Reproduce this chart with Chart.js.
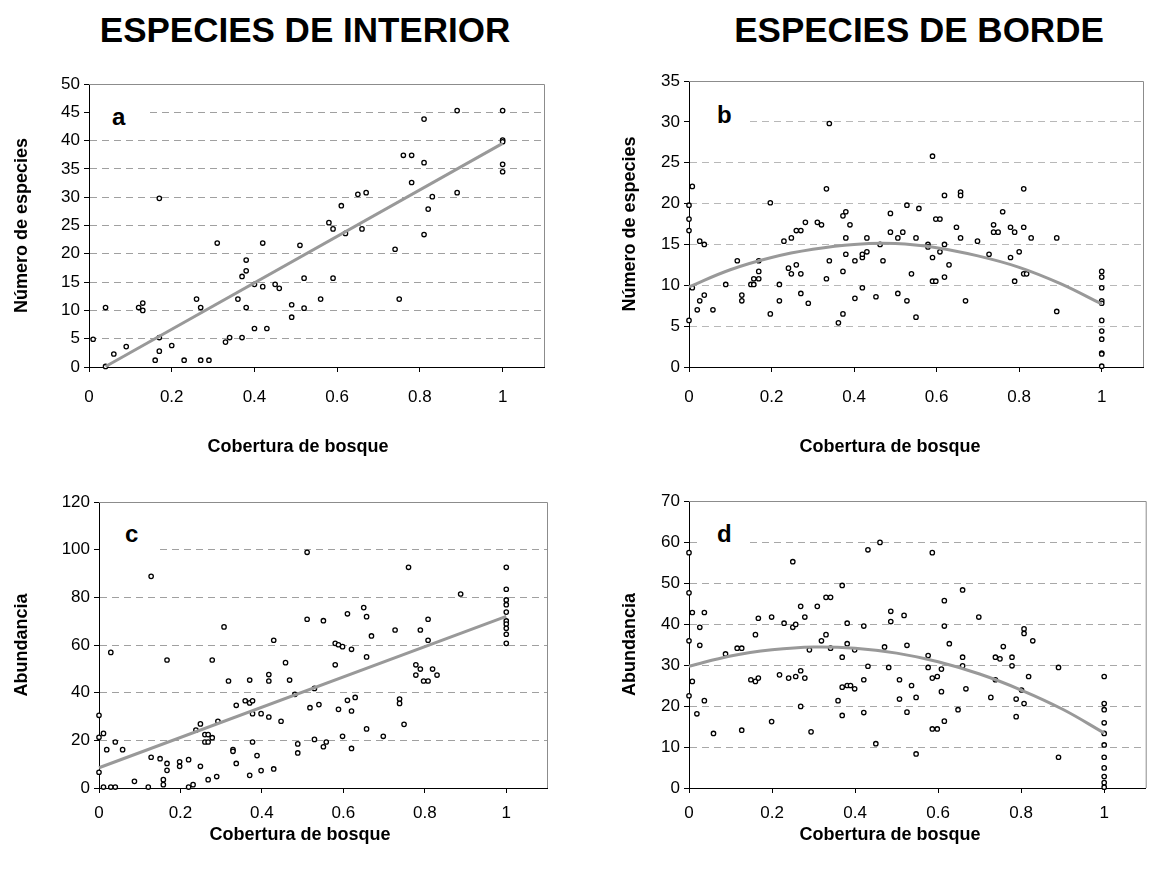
<!DOCTYPE html>
<html lang="es">
<head>
<meta charset="utf-8">
<title>Especies de interior y de borde</title>
<script src="https://cdn.jsdelivr.net/npm/chart.js@4.4.1/dist/chart.umd.min.js"></script>
<style>
  html, body { margin: 0; padding: 0; background: #fff; }
  body { position: relative; width: 1151px; height: 869px; overflow: hidden; font-family: "Liberation Sans", Arial, sans-serif; }
  canvas { position: absolute; }
  .head { position: absolute; top: 12px; font-weight: bold; font-size: 35px; line-height: 35px; white-space: nowrap; transform: translateX(-50%); }
  .xt { position: absolute; font-weight: bold; font-size: 18px; line-height: 22px; white-space: nowrap; transform: translateX(-50%); }
  .tag { position: absolute; box-sizing: border-box; background: #fff; font-weight: bold; font-size: 24px; line-height: 24px; }
</style>
</head>
<body>
<div class="head" style="left:305px">ESPECIES DE INTERIOR</div>
<div class="head" style="left:919px">ESPECIES DE BORDE</div>

<canvas id="chartA" width="575" height="420" style="left:0;top:55px"></canvas>
<canvas id="chartB" width="551" height="420" style="left:600px;top:55px"></canvas>
<canvas id="chartC" width="575" height="399" style="left:0;top:470px"></canvas>
<canvas id="chartD" width="551" height="399" style="left:600px;top:470px"></canvas>

<div class="tag" style="left:90px;top:100px;width:60px;height:32px;padding:5px 0 0 22px">a</div>
<div class="tag" style="left:690px;top:100px;width:60px;height:34px;padding:3px 0 0 27px">b</div>
<div class="tag" style="left:100px;top:520px;width:60px;height:38px;padding:2px 0 0 25px">c</div>
<div class="tag" style="left:700px;top:520px;width:50px;height:36px;padding:2px 0 0 17px">d</div>

<div class="xt" style="left:298px;top:435px">Cobertura de bosque</div>
<div class="xt" style="left:890px;top:435px">Cobertura de bosque</div>
<div class="xt" style="left:300px;top:823px">Cobertura de bosque</div>
<div class="xt" style="left:890px;top:823px">Cobertura de bosque</div>

<script>
/* ---- a: riqueza, especies de interior ---- */
const interiorRichCover = [
  0.01, 0.04, 0.04, 0.06, 0.09, 0.12, 0.13, 0.13, 0.16, 0.17,
  0.17, 0.17, 0.20, 0.23, 0.26, 0.27, 0.27, 0.29, 0.31, 0.33,
  0.34, 0.36, 0.37, 0.38, 0.38, 0.37, 0.38, 0.40, 0.40, 0.42,
  0.42, 0.43, 0.45, 0.46, 0.49, 0.49, 0.51, 0.52, 0.52, 0.56,
  0.58, 0.59, 0.59, 0.61, 0.62, 0.65, 0.66, 0.67, 0.74, 0.75,
  0.76, 0.78, 0.78, 0.81, 0.81, 0.81, 0.82, 0.83, 0.89, 0.89,
  1, 1, 1, 1, 1
];
const interiorRichCount = [
  4.9, 10.5, 0.1, 2.3, 3.6, 10.5, 11.3, 10.0, 1.2, 5.2,
  29.8, 2.8, 3.8, 1.2, 12.0, 10.5, 1.2, 1.2, 21.9, 4.4,
  5.2, 12.0, 16.0, 17.0, 18.9, 5.2, 10.5, 14.6, 6.8, 21.9,
  14.2, 6.8, 14.6, 13.9, 11.0, 8.8, 21.5, 15.7, 10.4, 12.0,
  25.5, 24.4, 15.7, 28.5, 23.6, 30.5, 24.4, 30.8, 20.8, 12.0,
  37.4, 37.4, 32.6, 43.8, 36.1, 23.4, 27.9, 30.1, 45.3, 30.8,
  45.3, 40.1, 39.8, 35.8, 34.5
];
const interiorRichFitX = [0.04, 1];
const interiorRichFitY = [0.1, 39.5];

/* ---- b: riqueza, especies de borde ---- */
const bordeRichCover = [
  0, 0, 0, 0, 0.008, 0.008, 0.02, 0.026, 0.026, 0.037,
  0.037, 0.058, 0.089, 0.117, 0.128, 0.128, 0.15, 0.157, 0.157, 0.169,
  0.169, 0.169, 0.197, 0.197, 0.219, 0.219, 0.23, 0.241, 0.248, 0.248,
  0.26, 0.26, 0.271, 0.271, 0.271, 0.282, 0.289, 0.311, 0.321, 0.333,
  0.333, 0.34, 0.34, 0.362, 0.373, 0.38, 0.373, 0.373, 0.38, 0.38,
  0.39, 0.402, 0.402, 0.42, 0.42, 0.42, 0.431, 0.431, 0.453, 0.463,
  0.47, 0.488, 0.488, 0.506, 0.506, 0.518, 0.528, 0.528, 0.539, 0.55,
  0.55, 0.557, 0.579, 0.579, 0.59, 0.59, 0.59, 0.598, 0.598, 0.608,
  0.608, 0.619, 0.619, 0.619, 0.63, 0.648, 0.658, 0.658, 0.658, 0.67,
  0.699, 0.727, 0.738, 0.738, 0.749, 0.76, 0.779, 0.779, 0.789, 0.789,
  0.8, 0.811, 0.811, 0.811, 0.818, 0.829, 0.891, 0.891, 1, 1,
  1, 1, 1, 1, 1, 1, 1, 1, 1
];
const bordeRichCount = [
  19.8, 18.1, 16.7, 5.7, 22.1, 9.7, 7.0, 15.4, 8.1, 15.0,
  8.8, 7.0, 10.1, 13.0, 8.8, 8.1, 10.1, 10.8, 10.1, 13.0,
  11.7, 10.8, 20.1, 6.5, 10.1, 8.1, 15.4, 12.1, 15.8, 11.4,
  16.7, 12.5, 16.7, 11.4, 9.0, 17.7, 7.8, 17.7, 17.4, 21.8,
  10.8, 29.8, 13.0, 5.4, 18.5, 19.0, 11.7, 6.5, 15.8, 13.8,
  17.4, 13.0, 8.4, 13.4, 13.8, 9.7, 15.8, 14.1, 8.6, 15.0,
  13.0, 18.8, 16.5, 15.8, 9.0, 16.5, 19.8, 8.1, 11.4, 15.8,
  6.1, 19.4, 15.0, 14.7, 25.8, 13.4, 10.5, 18.1, 10.5, 18.1,
  14.1, 21.0, 15.0, 11.0, 12.5, 17.1, 21.4, 21.0, 15.8, 8.1,
  15.4, 13.8, 17.4, 16.5, 16.5, 19.0, 17.1, 13.4, 16.5, 10.5,
  14.1, 21.8, 17.1, 11.4, 11.4, 15.8, 15.8, 6.8, 11.7, 11.0,
  9.7, 8.1, 7.8, 5.7, 4.4, 3.4, 1.7, 1.6, 0.1
];
const bordeRichFitX = [0, 0.1, 0.2, 0.3, 0.4, 0.5, 0.6, 0.7, 0.8, 0.9, 1];
const bordeRichFitY = [9.8, 11.9, 13.4, 14.4, 15.0, 15.1, 14.6, 13.6, 12.2, 10.2, 7.7];

/* ---- c: abundancia, especies de interior ---- */
const interiorAbundCover = [
  0, 0, 0, 0.011, 0.011, 0.019, 0.029, 0.029, 0.04, 0.04,
  0.058, 0.087, 0.121, 0.128, 0.128, 0.15, 0.158, 0.158, 0.167, 0.167,
  0.167, 0.198, 0.198, 0.22, 0.22, 0.231, 0.238, 0.249, 0.249, 0.26,
  0.26, 0.268, 0.268, 0.268, 0.278, 0.278, 0.289, 0.292, 0.307, 0.318,
  0.329, 0.329, 0.337, 0.337, 0.359, 0.37, 0.37, 0.37, 0.377, 0.377,
  0.377, 0.388, 0.398, 0.398, 0.417, 0.417, 0.417, 0.429, 0.429, 0.447,
  0.458, 0.468, 0.481, 0.488, 0.488, 0.511, 0.511, 0.518, 0.529, 0.529,
  0.54, 0.551, 0.551, 0.558, 0.58, 0.58, 0.588, 0.588, 0.598, 0.598,
  0.61, 0.61, 0.62, 0.62, 0.62, 0.629, 0.65, 0.657, 0.657, 0.657,
  0.669, 0.698, 0.727, 0.738, 0.738, 0.749, 0.76, 0.778, 0.778, 0.789,
  0.789, 0.797, 0.808, 0.808, 0.808, 0.819, 0.83, 0.888, 1, 1,
  1, 1, 1, 1, 1, 1, 1, 1
];
const interiorAbundCount = [
  30.5, 21.3, 6.6, 22.9, 0.4, 16.1, 56.9, 0.4, 19.3, 0.4,
  16.1, 2.8, 0.4, 88.8, 12.9, 12.3, 3.5, 1.4, 53.7, 10.3,
  7.4, 11.0, 9.1, 11.9, 0.4, 1.4, 24.3, 26.9, 9.1, 22.4,
  19.3, 22.4, 19.3, 3.5, 53.7, 21.1, 4.8, 28.0, 67.6, 44.9,
  16.1, 15.4, 34.7, 10.3, 36.6, 45.3, 35.7, 5.3, 36.6, 31.2,
  19.3, 13.6, 31.2, 7.3, 47.6, 44.9, 29.8, 62.0, 8.0, 28.0,
  52.6, 45.3, 39.3, 18.5, 14.7, 98.9, 70.8, 33.7, 41.8, 20.4,
  35.0, 70.2, 17.3, 19.3, 60.7, 51.7, 60.1, 33.0, 59.3, 21.7,
  73.1, 36.8, 58.2, 32.3, 16.6, 38.0, 75.7, 71.9, 55.0, 24.8,
  63.8, 21.7, 66.3, 37.3, 35.5, 26.7, 92.6, 51.7, 47.4, 66.3,
  49.9, 44.9, 44.9, 70.8, 62.0, 49.9, 47.4, 81.4, 92.6, 83.4,
  78.9, 76.9, 73.8, 70.1, 68.8, 67.0, 64.5, 60.7
];
const interiorAbundFitX = [0, 1];
const interiorAbundFitY = [8.5, 72];

/* ---- d: abundancia, especies de borde ---- */
const bordeAbundCover = [
  0, 0, 0, 0, 0.008, 0.008, 0.019, 0.026, 0.026, 0.037,
  0.037, 0.059, 0.088, 0.116, 0.127, 0.127, 0.149, 0.16, 0.16, 0.167,
  0.167, 0.199, 0.199, 0.218, 0.229, 0.24, 0.25, 0.25, 0.257, 0.257,
  0.269, 0.269, 0.269, 0.279, 0.279, 0.29, 0.294, 0.309, 0.319, 0.33,
  0.33, 0.341, 0.341, 0.359, 0.369, 0.369, 0.369, 0.369, 0.381, 0.381,
  0.381, 0.389, 0.399, 0.399, 0.421, 0.421, 0.421, 0.431, 0.431, 0.45,
  0.46, 0.471, 0.481, 0.486, 0.486, 0.507, 0.507, 0.518, 0.525, 0.525,
  0.536, 0.547, 0.547, 0.576, 0.576, 0.586, 0.586, 0.586, 0.598, 0.598,
  0.608, 0.608, 0.615, 0.615, 0.615, 0.627, 0.648, 0.659, 0.659, 0.659,
  0.667, 0.698, 0.727, 0.738, 0.738, 0.749, 0.757, 0.778, 0.778, 0.788,
  0.788, 0.801, 0.807, 0.807, 0.807, 0.818, 0.828, 0.89, 0.89, 1,
  1, 1, 1, 1, 1, 1, 1, 1, 1, 1
];
const bordeAbundCount = [
  57.4, 47.6, 35.9, 22.5, 42.8, 26.0, 18.1, 39.2, 34.8, 42.8,
  21.3, 13.3, 32.7, 34.1, 34.1, 14.1, 26.4, 37.4, 26.0, 41.4,
  26.8, 41.7, 16.2, 27.6, 40.2, 26.8, 55.2, 39.2, 39.9, 27.2,
  44.3, 28.6, 19.9, 41.7, 26.8, 33.7, 13.7, 44.3, 35.9, 46.5,
  37.4, 46.5, 34.1, 21.3, 49.4, 31.9, 24.6, 17.7, 40.2, 35.2,
  25.0, 25.0, 33.7, 24.2, 39.5, 26.4, 18.4, 58.1, 29.7, 10.8,
  59.9, 34.4, 29.4, 43.1, 40.6, 26.4, 21.7, 42.1, 34.8, 18.5,
  25.0, 22.1, 8.3, 32.3, 29.4, 57.4, 26.8, 14.4, 27.2, 14.4,
  29.0, 23.5, 45.7, 39.5, 16.3, 35.2, 19.1, 48.3, 31.9, 29.8,
  24.2, 41.7, 22.1, 31.9, 26.4, 31.5, 34.5, 31.9, 29.8, 21.7,
  17.4, 23.9, 38.8, 37.7, 20.6, 27.2, 35.9, 29.4, 7.5, 27.2,
  20.6, 19.1, 15.9, 13.3, 10.5, 7.5, 4.9, 2.8, 1.3, 0.2
];
const bordeAbundFitX = [0, 0.1, 0.2, 0.3, 0.4, 0.5, 0.6, 0.7, 0.8, 0.9, 1];
const bordeAbundFitY = [29.7, 32.2, 33.7, 34.4, 34.1, 32.9, 30.8, 27.8, 23.9, 19.2, 13.4];

const FONT = "'Liberation Sans', Arial, sans-serif";

const pairs = (xs, ys) => xs.map((x, i) => ({ x, y: ys[i] }));

// grey top/right edges of the plot box, the left/bottom ones are the axes
const plotFrame = {
  id: "plotFrame",
  beforeDatasetsDraw(chart) {
    const { ctx, chartArea: a } = chart;
    ctx.save();
    ctx.strokeStyle = "#8c8c8c";
    ctx.lineWidth = 1;
    ctx.beginPath();
    ctx.moveTo(a.left, a.top + 0.5);
    ctx.lineTo(a.right + 0.5, a.top + 0.5);
    ctx.lineTo(a.right + 0.5, a.bottom);
    ctx.stroke();
    ctx.restore();
  },
};

function panel(id, p) {
  const tickFont = { family: FONT, size: 17 };
  const titleFont = { family: FONT, size: 18, weight: "bold" };

  return new Chart(document.getElementById(id), {
    type: "scatter",
    data: {
      datasets: [
        {
          data: pairs(p.fitX, p.fitY),
          showLine: true,
          borderColor: "#999999",
          borderWidth: 3,
          pointRadius: 0,
          tension: p.fitX.length > 2 ? 0.4 : 0,
          clip: false,
        },
        {
          data: pairs(p.x, p.y),
          pointRadius: 2.2,
          pointBorderWidth: 1.3,
          pointBorderColor: "#000",
          pointBackgroundColor: "#fff",
          clip: false,
        },
      ],
    },
    options: {
      responsive: false,
      animation: false,
      events: [],
      layout: { padding: p.pad },
      plugins: { legend: { display: false }, tooltip: { enabled: false } },
      scales: {
        x: {
          type: "linear",
          min: 0,
          max: 1.1,
          afterFit: (s) => { s.height = p.xh; },
          ticks: {
            stepSize: 0.2,
            includeBounds: false,
            padding: p.xTickPad,
            color: "#000",
            font: tickFont,
            callback: (v) => String(Math.round(v * 10) / 10),
          },
          grid: { drawOnChartArea: false, tickLength: 5, tickColor: "#000" },
          border: { color: "#000", width: 1 },
        },
        y: {
          min: 0,
          max: p.yMax,
          afterFit: (s) => { s.width = p.yw; },
          ticks: { stepSize: p.yStep, padding: 4, color: "#000", font: tickFont },
          grid: {
            color: (c) => (c.tick && c.tick.value === 0 ? "rgba(0,0,0,0)" : p.gridColor),
            tickLength: 5,
            tickColor: "#000",
          },
          border: { color: "#000", width: 1, dash: [7, 5] },
          title: { display: true, text: p.yTitle, color: "#000", font: titleFont, padding: { top: p.yTitlePad, bottom: 0 } },
        },
      },
    },
    plugins: [plotFrame],
  });
}

panel("chartA", {
  x: interiorRichCover, y: interiorRichCount, fitX: interiorRichFitX, fitY: interiorRichFitY,
  yMax: 50, yStep: 5, yTitle: "Número de especies", gridColor: "#a0a0a0",
  pad: { left: 0, top: 29, right: 31, bottom: 0 }, yw: 89, xh: 108,
  xTickPad: 15, yTitlePad: 11,
});
panel("chartB", {
  x: bordeRichCover, y: bordeRichCount, fitX: bordeRichFitX, fitY: bordeRichFitY,
  yMax: 35, yStep: 5, yTitle: "Número de especies", gridColor: "#b8b8b8",
  pad: { left: 0, top: 26, right: 8, bottom: 0 }, yw: 89, xh: 108,
  xTickPad: 15, yTitlePad: 19,
});
panel("chartC", {
  x: interiorAbundCover, y: interiorAbundCount, fitX: interiorAbundFitX, fitY: interiorAbundFitY,
  yMax: 120, yStep: 20, yTitle: "Abundancia", gridColor: "#a0a0a0",
  pad: { left: 0, top: 32, right: 28, bottom: 0 }, yw: 99, xh: 81,
  xTickPad: 10, yTitlePad: 11,
});
panel("chartD", {
  x: bordeAbundCover, y: bordeAbundCount, fitX: bordeAbundFitX, fitY: bordeAbundFitY,
  yMax: 70, yStep: 10, yTitle: "Abundancia", gridColor: "#a8a8a8",
  pad: { left: 0, top: 31, right: 5, bottom: 0 }, yw: 89, xh: 81,
  xTickPad: 10, yTitlePad: 19,
});
</script>
</body>
</html>
